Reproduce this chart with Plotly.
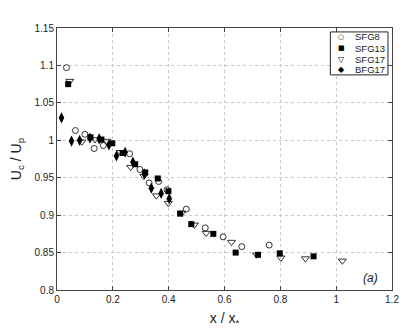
import plotly.graph_objects as go

# U_c / U_p against x / x*
sfg8_x = [0.034, 0.066, 0.100, 0.133, 0.166, 0.260, 0.297, 0.330, 0.364, 0.394, 0.463, 0.531, 0.595, 0.662, 0.760]
sfg8_y = [1.097, 1.013, 1.008, 0.989, 0.993, 0.982, 0.961, 0.943, 0.945, 0.934, 0.908, 0.883, 0.871, 0.858, 0.860]

sfg13_x = [0.040, 0.120, 0.159, 0.198, 0.235, 0.280, 0.316, 0.361, 0.399, 0.441, 0.481, 0.560, 0.640, 0.720, 0.798, 0.919]
sfg13_y = [1.075, 1.004, 1.001, 0.996, 0.983, 0.968, 0.957, 0.949, 0.932, 0.902, 0.888, 0.875, 0.850, 0.847, 0.849, 0.845]

sfg17_x = [0.046, 0.089, 0.136, 0.178, 0.227, 0.264, 0.311, 0.356, 0.399, 0.447, 0.492, 0.534, 0.625, 0.715, 0.802, 0.890, 1.022]
sfg17_y = [1.079, 0.998, 1.001, 0.999, 0.984, 0.964, 0.952, 0.926, 0.916, 0.903, 0.887, 0.876, 0.864, 0.847, 0.843, 0.842, 0.839]

bfg17_x = [0.016, 0.052, 0.081, 0.118, 0.151, 0.186, 0.213, 0.244, 0.272, 0.313, 0.338, 0.373, 0.402]
bfg17_y = [1.030, 0.999, 1.000, 1.003, 1.002, 0.994, 0.979, 0.984, 0.971, 0.955, 0.936, 0.929, 0.922]

series_names = ["SFG8", "SFG13", "SFG17", "BFG17"]
legend_glyphs = ["○", "■", "▽", "◆"]

xticks = [0, 0.2, 0.4, 0.6, 0.8, 1, 1.2]
xtick_text = ["0", "0.2", "0.4", "0.6", "0.8", "1", "1.2"]
yticks = [0.8, 0.85, 0.9, 0.95, 1, 1.05, 1.1, 1.15]
ytick_text = ["0.8", "0.85", "0.9", "0.95", "1", "1.05", "1.1", "1.15"]

fig = go.Figure()
fig.add_trace(go.Scatter(x=sfg8_x, y=sfg8_y, mode="markers", name=series_names[0],
                         marker=dict(symbol="circle-open", size=6, color="black", line=dict(width=0.8))))
fig.add_trace(go.Scatter(x=sfg13_x, y=sfg13_y, mode="markers", name=series_names[1],
                         marker=dict(symbol="square", size=6, color="black")))
fig.add_trace(go.Scatter(x=sfg17_x, y=sfg17_y, mode="markers", name=series_names[2],
                         marker=dict(symbol="triangle-down-open", size=7, color="black", line=dict(width=0.8))))
fig.add_trace(go.Scatter(x=bfg17_x, y=bfg17_y, mode="markers", name=series_names[3],
                         marker=dict(symbol="diamond-tall", size=8, color="black")))

axis_style = dict(showline=True, linecolor="#444", linewidth=1, mirror="ticks",
                  ticks="inside", ticklen=4, tickcolor="#444",
                  showgrid=True, gridcolor="#c8c8c8", griddash="dot", gridwidth=1,
                  zeroline=False, tickfont=dict(size=10, color="#222"))

fig.update_xaxes(range=[0, 1.2], tickvals=xticks, ticktext=xtick_text,
                 title=dict(text="x / x<sub>*</sub>", font=dict(size=14), standoff=9), **axis_style)
fig.update_yaxes(range=[0.8, 1.15], tickvals=yticks, ticktext=ytick_text,
                 title=dict(text="U<sub>c</sub> / U<sub>p</sub>", font=dict(size=14), standoff=9), **axis_style)

# compact matlab-style legend box
fig.add_shape(type="rect", xref="paper", yref="paper", x0=0.816, x1=0.988, y0=0.821, y1=0.985,
              line=dict(color="#222", width=1), fillcolor="white", layer="above")
entry_y = [0.966, 0.923, 0.881, 0.841]
glyph_size = [7, 7, 8, 8]
for name, glyph, yy, gs in zip(series_names, legend_glyphs, entry_y, glyph_size):
    fig.add_annotation(text=glyph, x=0.849, y=yy, xref="paper", yref="paper", showarrow=False,
                       xanchor="center", yanchor="middle",
                       font=dict(size=gs, color="black", family="DejaVu Sans"))
    fig.add_annotation(text=name, x=0.884, y=yy, xref="paper", yref="paper", showarrow=False,
                       xanchor="left", yanchor="middle", font=dict(size=9.5, color="#222"))

fig.add_annotation(text="<i>(a)</i>", x=0.965, y=0.045, xref="paper", yref="paper",
                   xanchor="right", yanchor="middle", showarrow=False, font=dict(size=12, color="#222"))

fig.update_layout(
    width=409, height=334,
    margin=dict(l=57, r=10, t=28, b=38),
    paper_bgcolor="white", plot_bgcolor="white",
    font=dict(family="Liberation Sans, Arial, sans-serif", color="#222"),
    showlegend=False,
)

fig.write_html("out.html", config={"displayModeBar": False},
               post_script="document.body.style.margin='0';")
